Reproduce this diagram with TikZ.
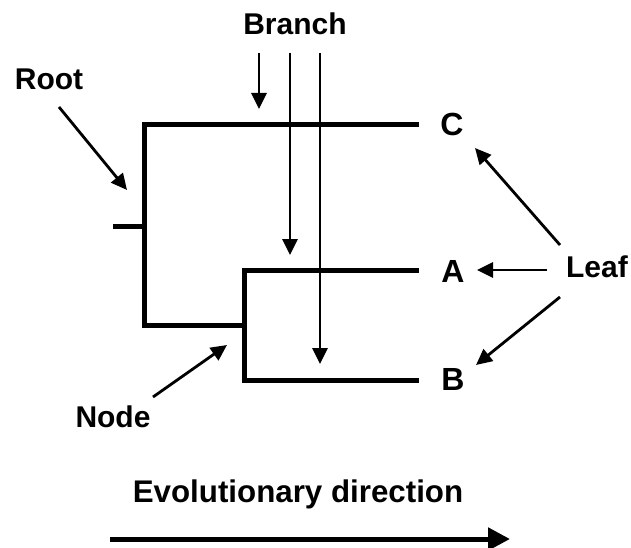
\documentclass[tikz,border=0pt]{standalone}
\usepackage{fontspec}
\setmainfont{Liberation Sans}
\usetikzlibrary{arrows.meta}
\begin{document}
\begin{tikzpicture}[x=1pt,y=-1pt,
  tree/.style={line width=5pt,line join=miter,line cap=butt},
  ptr/.style={line width=2.8pt,-{Triangle[length=16pt,width=15pt]}},
  big/.style={line width=5pt,-{Triangle[length=22pt,width=22pt]}},
  lbl/.style={inner sep=0pt,anchor=base,font=\fontsize{30}{36}\selectfont\bfseries},
  leaflbl/.style={inner sep=0pt,anchor=base,font=\fontsize{32}{38}\selectfont\bfseries}]
\useasboundingbox (0,0) rectangle (631,548);
% tree points
\coordinate (rs) at (113,226);
\coordinate (rv) at (144,226);
\coordinate (tc) at (144,125);
\coordinate (ec) at (419,125);
\coordinate (bl) at (144,325);
\coordinate (nd) at (244,325);
\coordinate (ta) at (244,270);
\coordinate (ea) at (419,270);
\coordinate (tb) at (244,380);
\coordinate (eb) at (419,380);
\draw[tree] (rs) -- (rv);
\draw[tree] (ec) -- (tc) -- (bl) -- (nd);
\draw[tree] (ea) -- (ta) -- (tb) -- (eb);
% labels
\node[leaflbl] (C) at (452,136) {C};
\node[leaflbl] (A) at (453,282) {A};
\node[leaflbl] (B) at (453,390) {B};
\node[lbl] (root) at (49,90) {Root};
\node[lbl] (branch) at (295,35) {Branch};
\node[lbl] (node) at (113,427) {Node};
\node[lbl] (leaf) at (597,277) {Leaf};
\node[lbl,font=\fontsize{31.3}{37}\selectfont\bfseries] (evo) at (298,502) {Evolutionary direction};
% pointer coordinates
\coordinate (r0) at (59,107);   \coordinate (r1) at (127,190);
\coordinate (b0) at (259,53);   \coordinate (b1) at (259,109);
\coordinate (b2) at (290,53);   \coordinate (b3) at (290,255);
\coordinate (b4) at (320,53);   \coordinate (b5) at (320,364);
\coordinate (n0) at (153,397);  \coordinate (n1) at (227,345);
\coordinate (l0) at (560,245);  \coordinate (l1) at (475,148);
\coordinate (l2) at (547,270);  \coordinate (l3) at (477,270);
\coordinate (l4) at (560,297);  \coordinate (l5) at (476,365);
\coordinate (e0) at (110,539);  \coordinate (e1) at (510,539);
\draw[ptr] (r0) -- (r1);
\draw[ptr] (b0) -- (b1);
\draw[ptr] (b2) -- (b3);
\draw[ptr] (b4) -- (b5);
\draw[ptr] (n0) -- (n1);
\draw[ptr] (l0) -- (l1);
\draw[ptr] (l2) -- (l3);
\draw[ptr] (l4) -- (l5);
\draw[big] (e0) -- (e1);
\end{tikzpicture}
\end{document}
